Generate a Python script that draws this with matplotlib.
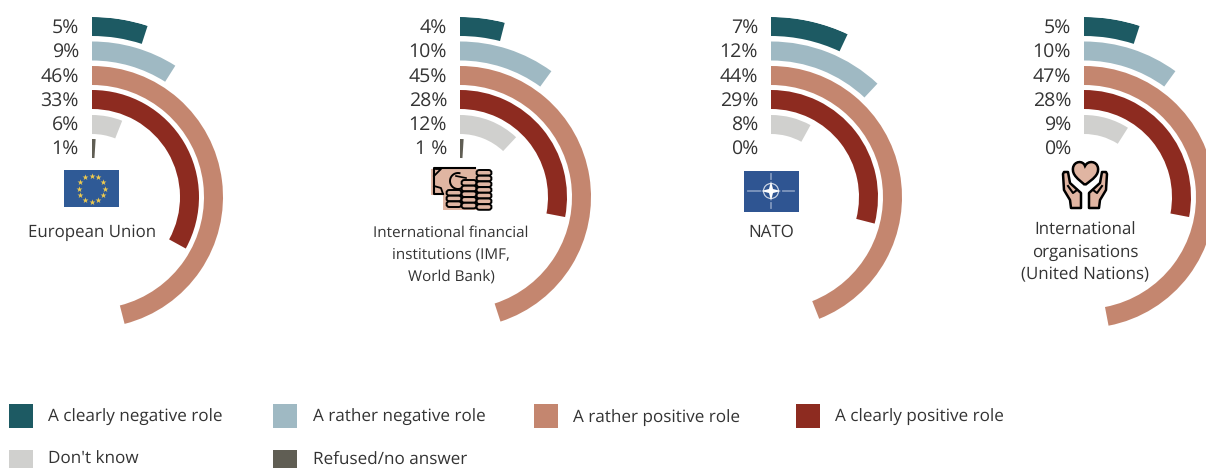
import numpy as np
import matplotlib
matplotlib.use('Agg')
import matplotlib.pyplot as plt
from matplotlib.patches import Rectangle, Ellipse, Polygon, PathPatch, FancyBboxPatch
from matplotlib.path import Path

plt.rcParams['font.family'] = ['Open Sans', 'DejaVu Sans']
plt.rcParams['text.hinting'] = 'none'

categories = ['A clearly negative role', 'A rather negative role', 'A rather positive role',
              'A clearly positive role', "Don't know", 'Refused/no answer']
colors = ['#1D5A63', '#9FB9C3', '#C4866F', '#8D2B20', '#D0D0CE', '#605E54']

eu = [5, 9, 46, 33, 6, 1]
ifi = [4, 10, 45, 28, 12, 1]
nato = [7, 12, 44, 29, 8, 0]
un = [5, 10, 47, 28, 9, 0]

eu_labels = ['5%', '9%', '46%', '33%', '6%', '1%']
ifi_labels = ['4%', '10%', '45%', '28%', '12%', '1 %']
nato_labels = ['7%', '12%', '44%', '29%', '8%', '0%']
un_labels = ['5%', '10%', '47%', '28%', '9%', '0%']

eu_name = ['European Union']
ifi_name = ['International financial', 'institutions (IMF,', 'World Bank)']
nato_name = ['NATO']
un_name = ['International', 'organisations', '(United Nations)']

W, H = 1206, 468
cy = 197
R = 180
outer = [180, 155.5, 131, 107, 82, 58]
thick = 19
label_y = [28, 52, 77, 101, 125, 149]
txt = '#333333'
skin = '#E0B5A2'

fig = plt.figure(figsize=(W / 100, H / 100), dpi=100)
fig.patch.set_facecolor('white')

# overlay in pixel coordinates for text, icons and legend
ov = fig.add_axes([0, 0, 1, 1], zorder=5)
ov.set_xlim(0, W)
ov.set_ylim(H, 0)
ov.axis('off')
ov.patch.set_alpha(0)


def panel(cx, values, labels, name, name_x, name_y, name_size=12.2):
    ax = fig.add_axes([(cx - R) / W, 1 - (cy + R) / H, 2 * R / W, 2 * R / H], projection='polar')
    ax.set_theta_zero_location('N')
    ax.set_theta_direction(-1)
    ax.set_ylim(0, R)
    ax.axis('off')
    for v, c, r in zip(values, colors, outer):
        if v > 0:
            ax.bar(0, thick, width=np.deg2rad(v * 3.6), bottom=r - thick, align='edge', color=c, linewidth=0)
    for lab, y in zip(labels, label_y):
        ov.text(cx - 13, y, lab, ha='right', va='center', fontsize=14, color=txt)
    for i, line in enumerate(name):
        ov.text(name_x, name_y + i * 22, line, ha='center', va='center', fontsize=name_size, color=txt)


panel(92, eu, eu_labels, eu_name, 92, 232.5)
panel(460, ifi, ifi_labels, ifi_name, 451, 232.5, name_size=11.0)
panel(771, nato, nato_labels, nato_name, 771, 232.5)
panel(1084, un, un_labels, un_name, 1085, 230.5)

# EU flag
ov.add_patch(Rectangle((64, 170), 55, 37, color='#2F5A96', lw=0))
a = np.deg2rad(np.arange(0, 360, 30))
ov.scatter(91.5 + 13 * np.cos(a), 188.5 + 13 * np.sin(a), marker='*', s=20, color='#F0CB4E', linewidths=0)

# NATO flag
ov.add_patch(Rectangle((744, 171), 55, 41, color='#2F5592', lw=0))
for seg in [((748, 760), (191, 191)), ((783, 794), (191, 191)), ((771, 771), (174, 179)), ((771, 771), (203, 208))]:
    ov.plot(seg[0], seg[1], color='#7F97BE', lw=1.3)
ov.add_patch(Ellipse((771, 191), 15, 15, fill=False, ec='#C9D3E3', lw=0.9))
ov.add_patch(Polygon([(771, 181), (773, 189), (781, 191), (773, 193), (771, 201), (769, 193), (761, 191), (769, 189)],
                     color='white', lw=0))

# money icon
ov.add_patch(Rectangle((431, 169), 46, 26, color=skin, lw=0))
ov.add_patch(Rectangle((443, 185), 47, 25, color=skin, lw=0))
ov.plot([475, 434, 434, 443], [168, 168, 194, 194], color='black', lw=1.5)
ov.plot([434, 441, 436], [176, 169, 169], color='black', lw=1.3)
ov.plot([434, 441, 443], [186, 188, 194], color='black', lw=1.3)
t = np.linspace(1.2, 4.9, 30)
ov.plot(458 + 8 * np.cos(t), 181 + 8 * np.sin(t), color='black', lw=1.4)
ov.plot([456, 466], [176, 178], color='black', lw=1.2)
for sx, top in [(454, 190), (469, 180), (484, 170)]:
    y = top
    while y < 206:
        ov.add_patch(FancyBboxPatch((sx - 6, y + 1.5), 12, 2.6, boxstyle='round,pad=1.5,rounding_size=2.8',
                                    fc=skin, ec='black', lw=1.4))
        y += 5.7

# hands and heart icon
heart = Path([(1085, 185), (1078, 179), (1072, 175), (1073, 168), (1074, 161), (1083, 160), (1085, 166),
              (1088, 160), (1097, 161), (1098, 168), (1099, 175), (1093, 179), (1085, 185)],
             [1, 4, 4, 4, 4, 4, 4, 4, 4, 4, 4, 4, 4])
ov.add_patch(PathPatch(heart, fc=skin, ec='black', lw=1.8))
left_hand = [(1063, 174), (1064, 172), (1068, 172), (1070, 183), (1081, 193), (1081, 208), (1071, 208), (1070, 200), (1064, 190)]
right_hand = [(2170 - x, y) for x, y in left_hand]
for pts in (left_hand, right_hand):
    ov.add_patch(Polygon(pts, fc=skin, ec='black', lw=1.8, joinstyle='round'))
ov.plot([1068, 1073, 1077], [186, 193, 190], color='black', lw=1.5)
ov.plot([1102, 1097, 1093], [186, 193, 190], color='black', lw=1.5)

# legend
box_x = [9, 273, 534, 796, 9, 273]
text_x = [48, 313, 573, 835, 48, 313]
box_y = [404, 404, 404, 404, 450, 450]
text_base = [422, 422, 422, 422, 463.5, 463.5]
for c, lab, bx, tx, by, tb in zip(colors, categories, box_x, text_x, box_y, text_base):
    ov.add_patch(Rectangle((bx, by), 24, 24, color=c, lw=0))
    ov.text(tx, tb, lab, ha='left', va='baseline', fontsize=12.3, color=txt)

fig.savefig('out.png', dpi=100)
